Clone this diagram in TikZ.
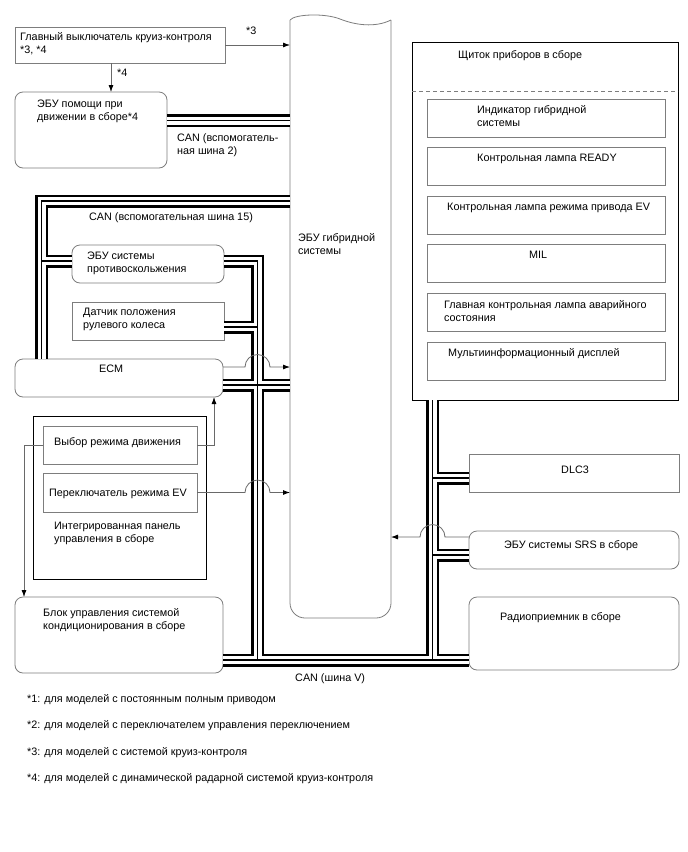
\documentclass[tikz,border=0pt]{standalone}
\usepackage{fontspec}
\setmainfont{Liberation Sans}
\usetikzlibrary{arrows.meta}
\definecolor{boxgray}{RGB}{125,125,125}
\definecolor{linegray}{RGB}{105,105,105}
% hop over a vertical bus, going right / going left
\newcommand\hopR[2]{-- ({#1-12.5},#2) .. controls ({#1-12.5},{#2-6.9}) and ({#1-6.9},{#2-12.5}) .. (#1,{#2-12.5}) .. controls ({#1+6.9},{#2-12.5}) and ({#1+12.5},{#2-6.9}) .. ({#1+12.5},#2)}
\newcommand\hopL[2]{-- ({#1+12.5},#2) .. controls ({#1+12.5},{#2-6.9}) and ({#1+6.9},{#2-12.5}) .. (#1,{#2-12.5}) .. controls ({#1-6.9},{#2-12.5}) and ({#1-12.5},{#2-6.9}) .. ({#1-12.5},#2)}
\newcommand\busnet[1]{%
  \draw[#1] (hyb.west |- j15) -- (j15) -- (j15 |- ecm.north)
            (j15b) -- (j15b -| antiskid.west)
            (jc2 -| assist.east) -- (jc2 -| hyb.west)
            (jv -| antiskid.east) -- (jv) -- (jvb)
            (jvs -| steer.east) -- (jvs)
            (jve -| ecm.east) -- (jve -| hyb.west)
            (jvb -| ac.east) -- (jvb -| radio.west)
            (jr |- meter.south) -- (jr)
            (jrd) -- (jrd -| dlc.west)
            (jrs) -- (jrs -| srs.west);}
\begin{document}
\begin{tikzpicture}[x=1pt,y=-1pt,
  box/.style={draw=boxgray, line width=0.8pt, inner sep=0pt, outer sep=0pt, anchor=north west, fill=white},
  rbox/.style={box, rounded corners=8pt},
  bbox/.style={draw=black, line width=1pt, inner sep=0pt, outer sep=0pt, anchor=north west, fill=white},
  txt/.style={inner sep=0pt, anchor=north west, align=left, font=\fontsize{10.8}{13}\selectfont},
  sig/.style={draw=linegray, line width=0.8pt, -{Latex[length=7pt,width=5pt,color=black]}}
]
\useasboundingbox (0,0) rectangle (688,852);
\fill[white] (0,0) rectangle (688,852);

% ---------- boxes ----------
\node[box, minimum width=210pt, minimum height=36pt] (cruise) at (15,27) {};
\node[rbox, minimum width=152pt, minimum height=76pt] (assist) at (15,92) {};
\node[inner sep=0pt, outer sep=0pt, anchor=north west, minimum width=101pt, minimum height=598pt] (hyb) at (290,20) {};
\draw[draw=boxgray, line width=0.8pt] (290,20) .. controls (295,14) and (325,13) .. (340,19) .. controls (355,25) and (375,28) .. (391,20);
\draw[draw=boxgray, line width=0.8pt, rounded corners=15pt] (290,20) -- (290,618) -- (391,618) -- (391,20);
\node[rbox, minimum width=152pt, minimum height=38pt] (antiskid) at (72,245) {};
\node[box, minimum width=152pt, minimum height=38pt] (steer) at (72,302) {};
\node[rbox, minimum width=208pt, minimum height=38pt] (ecm) at (15,359) {};
\node[bbox, minimum width=173pt, minimum height=163pt] (panel) at (33,416) {};
\node[box, minimum width=154pt, minimum height=38pt] (drivesel) at (43,426) {};
\node[box, minimum width=154pt, minimum height=39pt] (evsw) at (43,473) {};
\node[rbox, minimum width=208pt, minimum height=76pt] (ac) at (15,597) {};

\node[bbox, minimum width=266pt, minimum height=358pt] (meter) at (412,42) {};
\draw[draw=boxgray, line width=0.8pt, dash pattern=on 4pt off 3pt] (meter.west |- 0,91) -- (meter.east |- 0,91);
\node[box, minimum width=238pt, minimum height=38pt] (ind1) at (427,99) {};
\node[box, minimum width=238pt, minimum height=38pt] (ind2) at (427,147) {};
\node[box, minimum width=238pt, minimum height=38pt] (ind3) at (427,196) {};
\node[box, minimum width=238pt, minimum height=38pt] (ind4) at (427,244) {};
\node[box, minimum width=238pt, minimum height=38pt] (ind5) at (427,293) {};
\node[box, minimum width=238pt, minimum height=38pt] (ind6) at (427,342) {};
\node[box, minimum width=210pt, minimum height=38pt] (dlc) at (469,454) {};
\node[rbox, minimum width=210pt, minimum height=38pt] (srs) at (469,531) {};
\node[rbox, minimum width=210pt, minimum height=73pt] (radio) at (469,597) {};

% ---------- bus junction points ----------
\coordinate (j15) at (41.5,201);
\coordinate (j15b) at (41.5,261);
\coordinate (jc2) at (200,120.5);
\coordinate (jv) at (257.5,261);
\coordinate (jvs) at (257.5,327);
\coordinate (jve) at (257.5,385);
\coordinate (jvb) at (257.5,660);
\coordinate (jr) at (432.5,660);
\coordinate (jrd) at (432.5,478);
\coordinate (jrs) at (432.5,555);

% ---------- CAN buses (black, white, thin centre) ----------
\busnet{line width=13pt, line join=miter}
\busnet{white, line width=8pt, line join=miter}
\busnet{line width=1.3pt, line join=miter}

% ---------- signal lines ----------
\draw[sig] (cruise.east) -- (cruise.east -| hyb.west);
\draw[sig] ([xshift=-9pt]cruise.south) -- ([xshift=-9pt]cruise.south |- assist.north);
\draw[sig] ([yshift=11pt]ecm.east) \hopR{257.5}{367} -- ([yshift=11pt]ecm.east -| hyb.west);
\draw[sig] (drivesel.east) -| ([xshift=-9pt]ecm.south east);
\draw[sig] (drivesel.west) -| ([xshift=9pt]ac.north west);
\draw[sig] (evsw.east) \hopR{257.5}{492.5} -- (evsw.east -| hyb.west);
\draw[sig] ([yshift=13pt]srs.west) \hopL{432.5}{537} -- ([yshift=13pt]srs.west -| hyb.east);

% ---------- texts ----------
\node[txt] (tcruise) at (20,32) {Главный выключатель круиз-контроля\\*3, *4};
\node[txt] (t3) at (246,27) {*3};
\node[txt] (t4) at (117,69) {*4};
\node[txt] (tassist) at (37,100) {ЭБУ помощи при\\движении в сборе*4};
\node[txt] (tcan2) at (177,133) {CAN (вспомогатель-\\ная шина 2)};
\node[txt] (tcan15) at (89,212) {CAN (вспомогательная шина 15)};
\node[txt] (thyb) at (298,233) {ЭБУ гибридной\\системы};
\node[txt] (tanti) at (87,252) {ЭБУ системы\\противоскольжения};
\node[txt] (tsteer) at (83,308) {Датчик положения\\рулевого колеса};
\node[txt] (tecm) at (99,365) {ECM};
\node[txt] (tdrive) at (54,437) {Выбор режима движения};
\node[txt] (tevsw) at (49,489) {Переключатель режима EV};
\node[txt] (tpanel) at (54,522) {Интегрированная панель\\управления в сборе};
\node[txt] (tac) at (43,608) {Блок управления системой\\кондиционирования в сборе};
\node[txt] (tcanv) at (295,673) {CAN (шина V)};

\node[txt] (tmeter) at (458,50) {Щиток приборов в сборе};
\node[txt] (tind1) at (477,105) {Индикатор гибридной\\системы};
\node[txt] (tind2) at (477,154) {Контрольная лампа READY};
\node[txt] (tind3) at (447,203) {Контрольная лампа режима привода EV};
\node[txt] (tind4) at (529,251) {MIL};
\node[txt] (tind5) at (444,300) {Главная контрольная лампа аварийного\\состояния};
\node[txt] (tind6) at (448,348) {Мультиинформационный дисплей};
\node[txt] (tdlc) at (561,466) {DLC3};
\node[txt] (tsrs) at (504,540) {ЭБУ системы SRS в сборе};
\node[txt] (tradio) at (500,612) {Радиоприемник в сборе};

\node[txt] (f1) at (27,694) {*1: для моделей с постоянным полным приводом};
\node[txt] (f2) at (27,720) {*2: для моделей с переключателем управления переключением};
\node[txt] (f3) at (27,747) {*3: для моделей с системой круиз-контроля};
\node[txt] (f4) at (27,773) {*4: для моделей с динамической радарной системой круиз-контроля};
\end{tikzpicture}
\end{document}
